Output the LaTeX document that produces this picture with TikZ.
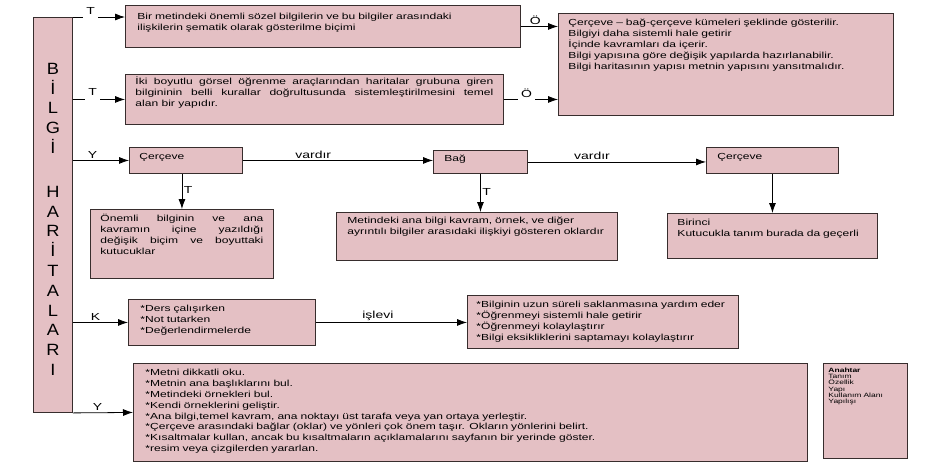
\documentclass[tikz,border=0pt]{standalone}
\usepackage{fontspec}
\setmainfont{Liberation Sans}
\newfontfamily\genis[FakeStretch=1.37]{Liberation Sans}
\newfontfamily\harf[FakeStretch=1.12]{Liberation Sans}
\usepackage{tikz}
\usetikzlibrary{arrows.meta}
\definecolor{pembe}{RGB}{228,192,196}
\definecolor{kenar}{RGB}{55,45,45}
\tikzstyle{kutu}   = [draw=kenar, fill=pembe, line width=0.9pt, anchor=north west, align=left, inner ysep=0pt, font=\genis\fontsize{8.8}{10.8}\selectfont]
\tikzstyle{ok}     = [draw, line width=0.8pt, -{Latex[length=10pt, width=7pt]}]
\tikzstyle{etiket} = [font=\genis\fontsize{10.2}{12}\selectfont, inner sep=1.5pt]
\tikzstyle{bosluk} = [etiket, fill=white, inner xsep=3pt, inner ysep=5pt]

\begin{document}
\begin{tikzpicture}[x=1pt, y=-1pt]
\useasboundingbox (0,0) rectangle (936,464);

% nodes
\node [kutu, text width=39pt, inner xsep=0pt, align=center, text height=56.8pt, text depth=338.2pt, font=\harf\fontsize{16.3}{19.8}\selectfont]
  at ( 33,  17) (bilgi) {B\\İ\\L\\G\\İ\\[24pt]H\\A\\R\\İ\\T\\A\\L\\A\\R\\I};

\node [kutu, text width=371pt, inner xsep=12pt, text height=14.5pt, text depth=27.5pt] at (125,   5) (tanim1)
  {Bir metindeki önemli sözel bilgilerin ve bu bilgiler arasındaki\\ilişkilerin şematik olarak gösterilme biçimi};
\node [kutu, text width=358pt, inner xsep=10pt, text height=10.5pt, text depth=39.5pt, align=justify] at (125,  74) (tanim2)
  {İki boyutlu görsel öğrenme araçlarından haritalar grubuna giren\linebreak bilgininin belli kurallar doğrultusunda sistemleştirilmesini temel\linebreak alan bir yapıdır.};
\node [kutu, text width=315pt, inner xsep=10pt, text height=12.5pt, text depth=89.5pt] at (558,  13) (ozellik)
  {Çerçeve – bağ-çerçeve kümeleri şeklinde gösterilir.\\Bilgiyi daha sistemli hale getirir\\İçinde kavramları da içerir.\\Bilgi yapısına göre değişik yapılarda hazırlanabilir.\\Bilgi haritasının yapısı metnin yapısını yansıtmalıdır.};

\node [kutu, text width=93pt,  inner xsep=10pt, text height=12.5pt, text depth=13.5pt] at (129, 147) (cerceve1) {Çerçeve};
\node [kutu, text width=72pt,  inner xsep=11pt, text height=11.5pt, text depth=11.5pt] at (433, 150) (bag)      {Bağ};
\node [kutu, text width=110pt, inner xsep=11pt, text height=12.5pt, text depth=13.5pt] at (706, 147) (cerceve2) {Çerçeve};

\node [kutu, text width=163pt, inner xsep=10pt, text height=12.5pt, text depth=56.5pt, align=justify] at ( 90, 209) (onemli)
  {Önemli bilginin ve ana\linebreak kavramın içine yazıldığı\linebreak değişik biçim ve boyuttaki\linebreak kutucuklar};
\node [kutu, text width=259pt, inner xsep=11pt, text height=11.5pt, text depth=36.5pt] at (336, 212) (baglar)
  {Metindeki ana bilgi kavram, örnek, ve diğer\\ayrıntılı bilgiler arasıdaki ilişkiyi gösteren oklardır};
\node [kutu, text width=190pt, inner xsep=10pt, text height=12.5pt, text depth=32.5pt] at (667, 213) (birinci)
  {Birinci\\Kutucukla tanım burada da geçerli};

\node [kutu, text width=163pt, inner xsep=12pt, text height=12.5pt, text depth=33.5pt] at (128, 299) (ders)
  {*Ders çalışırken\\{*}Not tutarken\\{*}Değerlendirmelerde};
\node [kutu, text width=253pt, inner xsep=9pt,  text height=12.5pt, text depth=40.5pt] at (467, 295) (islev)
  {*Bilginin uzun süreli saklanmasına yardım eder\\{*}Öğrenmeyi sistemli hale getirir\\{*}Öğrenmeyi kolaylaştırır\\{*}Bilgi eksikliklerini saptamayı kolaylaştırır};

\node [kutu, text width=650pt, inner xsep=12pt, text height=12.5pt, text depth=85.5pt] at (133, 363) (yapilis)
  {*Metni dikkatli oku.\\{*}Metnin ana başlıklarını bul.\\{*}Metindeki örnekleri bul.\\{*}Kendi örneklerini geliştir.\\{*}Ana bilgi,temel kavram, ana noktayı üst tarafa veya yan ortaya yerleştir.\\{*}Çerçeve arasındaki bağlar (oklar) ve yönleri çok önem taşır. Okların yönlerini belirt.\\{*}Kısaltmalar kullan, ancak bu kısaltmaların açıklamalarını sayfanın bir yerinde göster.\\{*}resim veya çizgilerden yararlan.};
\node [kutu, text width=74pt,  inner xsep=5pt,  text height=9pt,    text depth=86pt, font=\genis\fontsize{6.2}{6.2}\selectfont] at (823, 363) (anahtar)
  {\textbf{Anahtar}\\Tanım\\Özellik\\Yapı\\Kullanım Alanı\\Yapılışı};

% edges
\draw [ok] (bilgi.north east) -- node [bosluk, pos=0.34, yshift=6pt] {T} (bilgi.north east -| tanim1.west);
\draw [ok] (bilgi.east |- tanim2.west) -- node [bosluk, pos=0.38, yshift=7pt] {T} (tanim2.west);
\draw [ok] (tanim1.east) -- node [etiket, above, pos=0.39] {Ö} (tanim1.east -| ozellik.west);
\draw [ok] (tanim2.east) -- node [bosluk, pos=0.42, yshift=6pt] {Ö} (tanim2.east -| ozellik.west);
\draw [ok] (bilgi.east |- cerceve1.west) -- node [etiket, above, pos=0.35] {Y} (cerceve1.west);
\draw [ok] (cerceve1.east) -- node [etiket, above, pos=0.37] {vardır} (cerceve1.east -| bag.west);
\draw [ok] (bag.east) -- node [etiket, above, pos=0.36] {vardır} (bag.east -| cerceve2.west);
\draw [ok] (onemli.north |- cerceve1.south) -- node [etiket, right, pos=0.47] {T} (onemli.north);
\draw [ok] (bag.south) -- node [etiket, right, pos=0.47] {T} (bag.south |- baglar.north);
\draw [ok] (cerceve2.south) -- (birinci.north);
\draw [ok] (bilgi.east |- ders.west) -- node [etiket, above, pos=0.41] {K} (ders.west);
\draw [ok] (ders.east) -- node [etiket, above, pos=0.41] {işlevi} (ders.east -| islev.west);
\draw [ok] (bilgi.south east) -- node [etiket, above, pos=0.41] {Y} (yapilis.west);

\end{tikzpicture}
\end{document}
